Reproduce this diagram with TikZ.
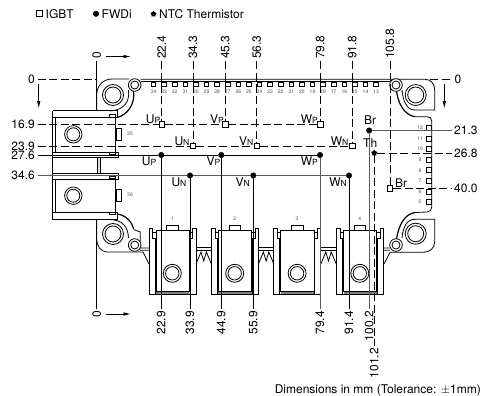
\documentclass[tikz,border=0pt]{standalone}
\usepackage{fontspec}
\setmainfont{TeX Gyre Heros}
\usetikzlibrary{arrows.meta,shapes.geometric}
\definecolor{leadgray}{gray}{0.35}
\definecolor{pingray}{gray}{0.3}
\newcommand{\subl}[2]{#1{\fontsize{8.5}{8.5}\selectfont #2}}
\tikzset{
  outl/.style={line width=0.8pt},
  heavy/.style={line width=1.2pt},
  lead/.style={line width=0.75pt},
  dashlead/.style={lead,dash pattern=on 8pt off 3.5pt},
  dimlabel/.style={font=\fontsize{12}{12}\selectfont,inner xsep=2.5pt,inner ysep=0pt},
  txt/.style={font=\fontsize{12}{12}\selectfont,inner sep=0pt},
  pinnum/.style={font=\fontsize{5}{5}\selectfont,text=pingray,inner sep=0pt},
  igbtmark/.style={draw,rectangle,minimum size=5.5pt,inner sep=0pt,fill=white,line width=0.8pt},
  fwdmark/.style={draw,circle,fill=black,minimum size=5.5pt,inner sep=0pt},
  thmark/.style={star,star points=5,fill=black,minimum size=6.5pt,inner sep=0pt},
  pinmark/.style={draw,rectangle,minimum width=4.5pt,minimum height=5pt,inner sep=0pt,line width=0.8pt}
}
\begin{document}
\begin{tikzpicture}[x=1pt,y=-1pt,>={Latex[length=7.5pt,width=3.5pt]}]
  \useasboundingbox (0,0) rectangle (482,396);

  % legend
  \node [igbtmark,fill=none,minimum size=6pt] (legi) at (39,13.5) {};
  \node [txt,anchor=base west] (legit) at (45.5,18.5) {IGBT};
  \node [fwdmark] (legf) at (96,13.8) {};
  \node [txt,anchor=base west] (legft) at (101.5,18.5) {FWDi};
  \node [thmark] (legn) at (153.5,14) {};
  \node [txt,anchor=base west] (legnt) at (159,18.5) {NTC Thermistor};
  \node [txt,anchor=base east] (tol) at (481,393) {Dimensions in mm (Tolerance: $\pm$1mm)};

  % module outline, upper edge
  \coordinate (cornerl) at (96.7,79);
  \coordinate (cornerr) at (430,79);
  \coordinate (lobeul) at (96.7,110.5);
  \coordinate (lobell) at (96.7,219);
  \draw [outl] (lobeul) -- (96.7,95) .. controls (96.7,86) and (103,79) .. (112,79) -- (129,79);
  \draw [outl] (140.5,79.3) -- (425,79.3) .. controls (431,79.3) and (434.7,84) .. (434.7,90) -- (434.7,110) -- (415,110)
     .. controls (406,110) and (403,100) .. (402,90);
  \draw [outl] (140.5,81.3) -- (390,81.3);
  \draw [heavy] (133.5,91) .. controls (135.5,103) and (128,115) .. (117,117.5);
  \draw [outl] (128.5,90) .. controls (130,102) and (124,110) .. (110,111);

  % right side with the strip of control pins
  \draw [heavy] (396.5,91) .. controls (398,103) and (404,115) .. (415,116.7);
  \draw [outl] (415,116.7) -- (427,116.7) .. controls (430,116.7) and (431.7,118) .. (431.7,121) -- (431.7,207)
     .. controls (431.7,210) and (430,212) .. (427,212) -- (415,212.5);
  \draw [heavy] (415,212.5) .. controls (405,214) and (399,224) .. (396.5,239);
  \draw [outl] (402,238) .. controls (403,228) and (406,219.3) .. (415,219.3) -- (434.7,219.3) -- (434.7,242)
     .. controls (434.7,248) and (430,252.3) .. (423,252.3) -- (390,252.3);
  \draw [outl] (384,248) -- (390,248) (384,250.3) -- (390,250.3) (384,264) -- (390,252.3);

  % lower left
  \draw [outl] (lobell) -- (96.7,238) .. controls (96.7,246) and (100,252) .. (108,252) -- (143,252);
  \draw [heavy] (117,214) .. controls (126,215) and (132,222) .. (133.5,229);
  \draw [outl] (133.5,229.5) -- (140.3,232) -- (140.3,241);
  \draw [outl] (110,219.5) .. controls (122,220) and (128,226) .. (128.5,238);
  \draw [outl] (138,248) -- (149,248) (140,250.3) -- (149,250.3) (143,252) -- (149,264);

  % fixing holes
  \foreach \px/\py in {113/95,113/234,415.7/95,415.7/233.7} {
    \draw [outl] (\px,\py) circle [radius=10.5];
    \draw [outl] (\px,\py) circle [radius=8];
  }
  \foreach \px/\py in {134.7/85,134.7/245,396/85,396/245} {
    \draw [outl,fill=white] (\px,\py) circle [radius=6.3];
    \draw [outl] (\px,\py) circle [radius=4];
  }

  % left terminals
  \draw [outl] (52.7,110.7) -- (52.7,219) -- (117,219) -- (117,212) -- (52.7,212);
  \draw [outl] (52.7,110.7) -- (117,110.7) -- (117,117) -- (52.7,117);
  \draw [outl] (55,117) -- (55,152) (55,179) -- (55,212);
  \draw [outl] (115,117) -- (115,152) (115,179) -- (115,212);
  \draw [outl] (52.7,152) -- (118,152) -- (118,157.3) -- (52.7,157.3);
  \draw [outl] (52.7,173) -- (118,173) -- (118,179) -- (52.7,179);
  \draw [outl,fill=gray!25] (97,157.3) rectangle (100.7,173);
  \foreach \py/\pn in {134.3/35,195.7/36} {
    \draw [outl] (73.3,\py) circle [radius=8.7];
    \draw [outl] (73.3,\py) circle [radius=6.5];
    \draw [outl] (116.7,{\py-6}) rectangle (121.7,{\py+6});
    \node [pinnum] (pin\pn) at (130,{\py-0.7}) {\pn};
  }
  \foreach \py in {114.5,152,176,212} {
    \draw [outl] (109,\py) rectangle (115,{\py+2.7});
  }

  % power terminals
  \foreach \x [count=\n] in {149,211.4,273.8,336.5} {
    \begin{scope}[shift={(\x,0)}]
      \fill [gray] (7,291.5) rectangle (40.3,294.7);
      \draw [outl] (0,294.7) -- (0,228.3) -- (3.5,228.3) -- (3.5,238);
      \draw [outl] (47,294.7) -- (47,228.3) -- (43.5,228.3) -- (43.5,238);
      \draw [outl] (6,238) -- (6,294.7) (41,238) -- (41,294.7);
      \draw [outl] (0,294.7) -- (47,294.7);
      \draw [outl] (7,230.3) rectangle (40.3,291.5);
      \draw [outl] (3.5,232) rectangle (7,238);
      \draw [outl] (40.3,232) rectangle (43.5,238);
      \draw [outl] (17.7,225) rectangle (29.3,230.3);
      \draw [outl] (23.3,273.3) circle [radius=9];
      \draw [outl] (23.3,273.3) circle [radius=6.7];
      \node [pinnum] (pwr\n) at (23.3,218.7) {\n};
    \end{scope}
  }
  \foreach \x in {196,258.4,320.8} {
    \begin{scope}[shift={(\x,0)}]
      \draw [outl] (0,247.7) -- (15.4,247.7) (0,250.3) -- (15.4,250.3);
      \draw [outl] (0,264) -- (5,252) -- (7.7,261) -- (10.4,252) -- (15.4,264);
    \end{scope}
  }

  % control pins
  \foreach \n [count=\i from 0] in {34,33,...,13} {
    \node [pinmark,minimum height=4pt] (top\n) at ({153.5+\i*10.6},84) {};
    \node [pinnum] (topn\n) at ({153.5+\i*10.6},91.7) {\n};
  }
  \foreach \n [count=\i from 0] in {12,11,...,5} {
    \node [pinmark] (side\n) at (428.7,{128+\i*10.57}) {};
    \node [pinnum] (siden\n) at (420,{128+\i*10.57}) {\n};
  }

  % chip positions
  \node [igbtmark] (up) at (161.7,124.5) {};
  \node [igbtmark] (vp) at (225.3,124.5) {};
  \node [igbtmark] (wp) at (320.2,124.5) {};
  \node [igbtmark] (un) at (193,146) {};
  \node [igbtmark] (vn) at (256.7,146) {};
  \node [igbtmark] (wn) at (352.2,146) {};
  \node [igbtmark] (brs) at (390,188.5) {};
  \node [fwdmark] (dup) at (161.3,155) {};
  \node [fwdmark] (dvp) at (221.3,155) {};
  \node [fwdmark] (dwp) at (320,155) {};
  \node [fwdmark] (dun) at (190,175.5) {};
  \node [fwdmark] (dvn) at (253.3,175.5) {};
  \node [fwdmark] (dwn) at (349,175.5) {};
  \node [fwdmark] (dbr) at (369.2,130.5) {};
  \node [thmark] (th) at (374.3,153) {};

  % dimensions, left and right
  \node [dimlabel,anchor=east] (l0) at (37.5,79) {0};
  \node [dimlabel,anchor=east] (l169) at (37.5,124.5) {16.9};
  \node [dimlabel,anchor=east] (l239) at (37.5,146) {23.9};
  \node [dimlabel,anchor=east] (l276) at (37.5,155) {27.6};
  \node [dimlabel,anchor=east] (l346) at (37.5,175.5) {34.6};
  \node [dimlabel,anchor=west] (r0) at (452,79) {0};
  \node [dimlabel,anchor=west] (r213) at (451.5,130.5) {21.3};
  \node [dimlabel,anchor=west] (r268) at (451.5,153) {26.8};
  \node [dimlabel,anchor=west] (r400) at (451.5,188.5) {40.0};

  % dimensions, top and bottom
  \node [dimlabel,rotate=90,anchor=west] (t0) at (96.7,61.5) {0};
  \node [dimlabel,rotate=90,anchor=west] (t224) at (161.7,61.5) {22.4};
  \node [dimlabel,rotate=90,anchor=west] (t343) at (193,61.5) {34.3};
  \node [dimlabel,rotate=90,anchor=west] (t453) at (225.3,61.5) {45.3};
  \node [dimlabel,rotate=90,anchor=west] (t563) at (256.7,61.5) {56.3};
  \node [dimlabel,rotate=90,anchor=west] (t798) at (320.2,61.5) {79.8};
  \node [dimlabel,rotate=90,anchor=west] (t918) at (352.2,61.5) {91.8};
  \node [dimlabel,rotate=90,anchor=west] (t1058) at (390,61.5) {105.8};
  \node [dimlabel,rotate=90,anchor=east] (b0) at (96.7,308.5) {0};
  \node [dimlabel,rotate=90,anchor=east] (b229) at (161.3,308.5) {22.9};
  \node [dimlabel,rotate=90,anchor=east] (b339) at (190,308.5) {33.9};
  \node [dimlabel,rotate=90,anchor=east] (b449) at (221.3,308.5) {44.9};
  \node [dimlabel,rotate=90,anchor=east] (b559) at (253.3,308.5) {55.9};
  \node [dimlabel,rotate=90,anchor=east] (b794) at (320,308.5) {79.4};
  \node [dimlabel,rotate=90,anchor=east] (b914) at (349,308.5) {91.4};
  \node [dimlabel,rotate=90,anchor=east] (b1002) at (369.2,308.5) {100.2};
  \node [dimlabel,rotate=90,anchor=east] (b1012) at (374.3,345.5) {101.2};

  % leaders
  \draw [dashlead] (l0) -- (cornerl);
  \draw [dashlead] (cornerr) -- (r0);
  \draw [lead] (t0) -- (lobeul);
  \draw [lead] (lobell) -- (b0);
  \draw [dashlead] (l169) -- (up);
  \draw [dashlead] (up) -- (vp);
  \draw [dashlead] (vp) -- (wp);
  \draw [dashlead] (l239) -- (un);
  \draw [dashlead] (un) -- (vn);
  \draw [dashlead] (vn) -- (wn);
  \draw [lead,black] (l276) -- (dup);
  \draw [lead,black] (dup) -- (dvp);
  \draw [lead,black] (dvp) -- (dwp);
  \draw [lead,leadgray] (l346) -- (dun);
  \draw [lead,leadgray] (dun) -- (dvn);
  \draw [lead,leadgray] (dvn) -- (dwn);
  \draw [lead,leadgray] (dbr) -- (r213);
  \draw [dashlead] (th) -- (r268);
  \draw [dashlead] (brs) -- (r400);
  \draw [dashlead] (t224) -- (up);
  \draw [dashlead] (t343) -- (un);
  \draw [dashlead] (t453) -- (vp);
  \draw [dashlead] (t563) -- (vn);
  \draw [dashlead] (t798) -- (wp);
  \draw [dashlead] (t918) -- (wn);
  \draw [dashlead] (t1058) -- (brs);
  \draw [lead] (dup) -- (b229);
  \draw [lead] (dun) -- (b339);
  \draw [lead] (dvp) -- (b449);
  \draw [lead] (dvn) -- (b559);
  \draw [lead,leadgray] (dwp) -- (b794);
  \draw [lead] (dwn) -- (b914);
  \draw [lead,leadgray] (dbr) -- (b1002);
  \draw [dashlead] (th) -- (b1012);

  % origin arrows
  \coordinate (ax1) at (106,56.5);
  \coordinate (ax2) at (131,56.5);
  \coordinate (ax3) at (106,314);
  \coordinate (ax4) at (131,314);
  \coordinate (ay1) at (38.7,84);
  \coordinate (ay2) at (38.7,108.5);
  \coordinate (ay3) at (444.3,84);
  \coordinate (ay4) at (444.3,108.5);
  \draw [->,outl] (ax1) -- (ax2);
  \draw [->,outl] (ax3) -- (ax4);
  \draw [->,outl] (ay1) -- (ay2);
  \draw [->,outl] (ay3) -- (ay4);

  % chip names
  \node [txt,anchor=base east] (nup) at (160.5,123) {\subl{U}{P}};
  \node [txt,anchor=base east] (nvp) at (224,123) {\subl{V}{P}};
  \node [txt,anchor=base east] (nwp) at (318,123) {\subl{W}{P}};
  \node [txt,anchor=base east] (nun) at (189.5,145) {\subl{U}{N}};
  \node [txt,anchor=base east] (nvn) at (253.5,145) {\subl{V}{N}};
  \node [txt,anchor=base east] (nwn) at (348.5,145) {\subl{W}{N}};
  \node [txt,anchor=base east] (mup) at (156.5,165) {\subl{U}{P}};
  \node [txt,anchor=base east] (mvp) at (220.5,165) {\subl{V}{P}};
  \node [txt,anchor=base east] (mwp) at (318,165) {\subl{W}{P}};
  \node [txt,anchor=base east] (mun) at (186.5,186) {\subl{U}{N}};
  \node [txt,anchor=base east] (mvn) at (250,186) {\subl{V}{N}};
  \node [txt,anchor=base east] (mwn) at (347,186) {\subl{W}{N}};
  \node [txt,anchor=base west] (nbr) at (364,124) {Br};
  \node [txt,anchor=base west] (nth) at (363,147) {Th};
  \node [txt,anchor=base west] (mbr) at (395,187) {Br};
\end{tikzpicture}
\end{document}
